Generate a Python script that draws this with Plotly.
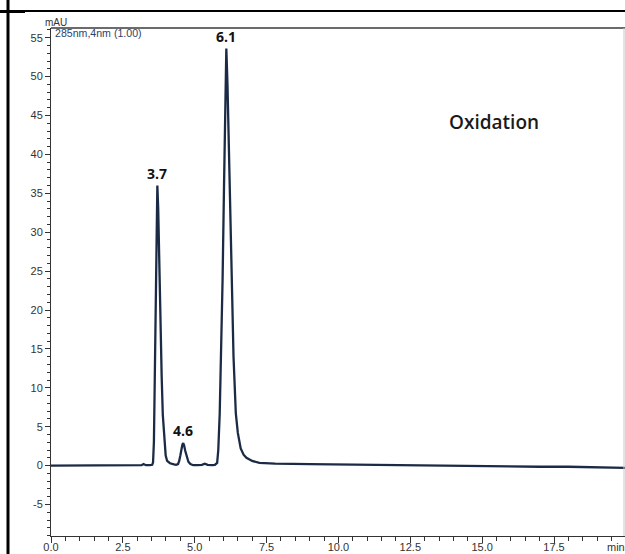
import plotly.graph_objects as go

# Chromatogram samples: retention time (min) and absorbance (mAU)
TIME = [
    0.0, 1.0, 2.0, 3.0, 3.15, 3.22, 3.3, 3.45,
    3.52, 3.55, 3.58, 3.61, 3.64, 3.67, 3.70, 3.73, 3.77, 3.81, 3.85, 3.89,
    3.94, 3.99, 4.04, 4.14, 4.28,
    4.35, 4.42, 4.46, 4.50, 4.54, 4.57, 4.60, 4.63, 4.67, 4.72, 4.78, 4.85, 4.95,
    5.1, 5.25, 5.35, 5.45, 5.6,
    5.70, 5.78, 5.82, 5.87, 5.92, 5.97, 6.02, 6.06, 6.10, 6.14, 6.20, 6.25,
    6.28, 6.35, 6.43, 6.50, 6.60, 6.70, 6.80, 7.00, 7.25, 7.8,
    9.0, 10.0, 11.0, 12.0, 13.0, 14.0, 15.0, 16.0, 17.0, 18.0, 19.0, 20.0,
]
MAU = [
    0.0, 0.0, 0.0, 0.0, 0.05, 0.2, 0.05, 0.05,
    0.1, 0.4, 3.0, 11.0, 22.0, 32.0, 36.0, 33.0, 24.0, 16.0, 11.5, 6.5,
    3.0, 1.3, 0.6, 0.3, 0.15,
    0.1, 0.2, 0.6, 1.3, 2.2, 2.7, 2.9, 2.6, 1.9, 1.1, 0.5, 0.2, 0.05,
    0.05, 0.1, 0.25, 0.1, 0.05,
    0.1, 0.35, 2.0, 6.7, 15.0, 24.0, 36.0, 47.0, 53.6, 49.0, 38.0, 29.5,
    24.0, 14.0, 6.7, 4.2, 2.2, 1.4, 1.0, 0.6, 0.35, 0.25,
    0.2, 0.15, 0.1, 0.05, 0.0, -0.05, -0.1, -0.15, -0.15, -0.15, -0.25, -0.3,
]

# Labelled peaks: retention time and apex height
PEAK_RT = [3.7, 4.6, 6.1]
PEAK_HEIGHT = [36.0, 2.9, 53.6]

X_TICKS = [0.0, 2.5, 5.0, 7.5, 10.0, 12.5, 15.0, 17.5]
X_TICK_TEXT = ["0.0", "2.5", "5.0", "7.5", "10.0", "12.5", "15.0", "17.5"]
Y_TICKS = [-5, 0, 5, 10, 15, 20, 25, 30, 35, 40, 45, 50, 55]
Y_TICK_TEXT = ["-5", "0", "5", "10", "15", "20", "25", "30", "35", "40", "45", "50", "55"]

W, H = 625, 554
L, R, T, B = 51, 0, 28, 18
PW, PH = W - L - R, H - T - B


def px(x):
    return (x - L) / PW


def py(y):
    return (H - B - y) / PH


AXIS_FONT = dict(family="Arial, Liberation Sans, sans-serif", size=11, color="#333333")
LINE_COLOR = "#1c2b45"

fig = go.Figure(
    go.Scatter(
        x=TIME, y=MAU, mode="lines",
        line=dict(color=LINE_COLOR, width=2.3),
        hoverinfo="skip", showlegend=False,
    )
)

annotations = []
for rt, h in zip(PEAK_RT, PEAK_HEIGHT):
    annotations.append(dict(
        x=rt, y=h, xref="x", yref="y", text="<b>%.1f</b>" % rt,
        showarrow=False, xanchor="center", yanchor="bottom", yshift=1,
        font=dict(family="Open Sans, sans-serif", size=14, color="#111111"),
    ))

annotations += [
    dict(x=px(493.5), y=py(121.7), xref="paper", yref="paper", text="Oxidation",
         showarrow=False, xanchor="center", yanchor="middle",
         font=dict(family="Open Sans, sans-serif", size=19, color="#1a1a1a", weight=600)),
    dict(x=px(56), y=py(22), xref="paper", yref="paper", text="mAU",
         showarrow=False, xanchor="center", yanchor="middle",
         font=dict(family="Arial, Liberation Sans, sans-serif", size=10, color="#333333")),
    dict(x=px(53), y=py(33), xref="paper", yref="paper", text="285nm,4nm (1.00)",
         showarrow=False, xanchor="left", yanchor="middle",
         font=dict(family="Arial, Liberation Sans, sans-serif", size=10.6, color="#2b3f6e")),
    dict(x=px(616), y=py(547), xref="paper", yref="paper", text="min",
         showarrow=False, xanchor="center", yanchor="middle", font=AXIS_FONT),
]

shapes = [
    # plot frame: top and right edges
    dict(type="line", xref="paper", yref="paper", x0=0, x1=1, y0=1, y1=1,
         line=dict(color="#6b6b6b", width=2)),
    dict(type="line", xref="paper", yref="paper", x0=px(624), x1=px(624), y0=0, y1=1,
         line=dict(color="#c8c8c8", width=1)),
    # outer cell border
    dict(type="line", xref="paper", yref="paper", x0=px(0), x1=1, y0=py(11), y1=py(11),
         line=dict(color="#000000", width=2)),
    dict(type="line", xref="paper", yref="paper", x0=px(0), x1=px(25), y0=py(11.5), y1=py(11.5),
         line=dict(color="#000000", width=3)),
    dict(type="line", xref="paper", yref="paper", x0=px(8), x1=px(8), y0=py(554), y1=py(0),
         line=dict(color="#000000", width=3)),
]

fig.update_layout(
    width=W, height=H,
    margin=dict(l=L, r=R, t=T, b=B, pad=0),
    paper_bgcolor="white", plot_bgcolor="white",
    showlegend=False,
    annotations=annotations,
    shapes=shapes,
    xaxis=dict(
        range=[0, 19.97], showgrid=False, zeroline=False, automargin=False,
        showline=True, linecolor="#333333", linewidth=1,
        ticks="outside", ticklen=6, tickwidth=1, tickcolor="#333333",
        ticklabelstandoff=-5,
        tickmode="array", tickvals=X_TICKS, ticktext=X_TICK_TEXT,
        tickfont=AXIS_FONT,
        minor=dict(tickmode="linear", tick0=0, dtick=0.5, ticks="outside",
                   ticklen=4, tickwidth=1, tickcolor="#333333", showgrid=False),
    ),
    yaxis=dict(
        range=[-9.05, 56.25], showgrid=False, zeroline=False, automargin=False,
        showline=True, linecolor="#333333", linewidth=1,
        ticks="outside", ticklen=5, tickwidth=1, tickcolor="#333333",
        tickmode="array", tickvals=Y_TICKS, ticktext=Y_TICK_TEXT,
        tickfont=AXIS_FONT,
        minor=dict(tickmode="linear", tick0=0, dtick=1, ticks="outside",
                   ticklen=3, tickwidth=1, tickcolor="#333333", showgrid=False),
    ),
)

fig.write_html("out.html")
